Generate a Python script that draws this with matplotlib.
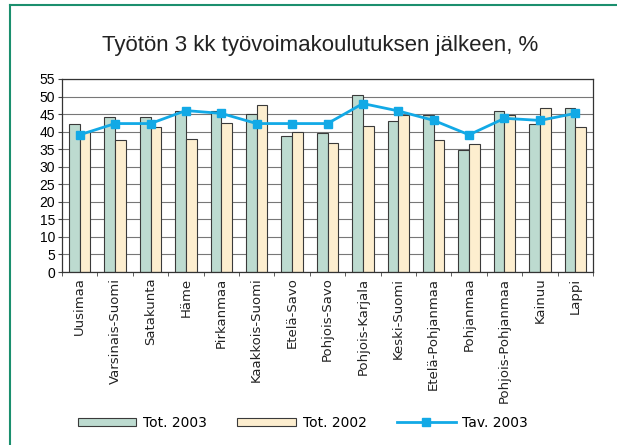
import numpy as np
import matplotlib.pyplot as plt
from matplotlib.lines import Line2D
from matplotlib.patches import Patch

# alueet ja arvot (luettu kuvasta)
alueet = ['Uusimaa', 'Varsinais-Suomi', 'Satakunta', 'Häme', 'Pirkanmaa',
          'Kaakkois-Suomi', 'Etelä-Savo', 'Pohjois-Savo', 'Pohjois-Karjala',
          'Keski-Suomi', 'Etelä-Pohjanmaa', 'Pohjanmaa', 'Pohjois-Pohjanmaa',
          'Kainuu', 'Lappi']
tot_2003 = [42.1, 44.1, 44.1, 45.8, 45.8, 45.1, 38.8, 39.7, 50.4, 43.0,
            44.7, 34.7, 45.8, 42.1, 46.6]
tot_2002 = [40.0, 37.6, 41.3, 38.0, 42.6, 47.6, 40.0, 36.8, 41.6, 44.7,
            37.6, 36.4, 44.8, 46.6, 41.3]
tav_2003 = [39.1, 42.3, 42.3, 46.0, 45.2, 42.3, 42.3, 42.3, 48.0, 45.9,
            43.2, 39.1, 43.8, 43.2, 45.2]
y_ticks = list(range(0, 60, 5))

green = '#bddbd0'
beige = '#fdeecf'
blue = '#12a9e6'
edge = '#3a3a3a'

fig = plt.figure(figsize=(6.17, 4.45), dpi=100)
ax = fig.add_axes([62/617, 1-272/445, (593-62)/617, (272-79)/445])

x = np.arange(len(alueet))
w = 0.3
ax.bar(x - w/2, tot_2003, w, color=green, edgecolor=edge, linewidth=0.8, zorder=2)
ax.bar(x + w/2, tot_2002, w, color=beige, edgecolor=edge, linewidth=0.8, zorder=2)
ax.plot(x, tav_2003, color=blue, linewidth=2, marker='s', markersize=6, zorder=3)

ax.set_xlim(-0.5, len(alueet) - 0.5)
ax.set_ylim(0, 55)
ax.set_yticks(y_ticks)
ax.set_yticklabels([str(v) for v in y_ticks], family=['Liberation Sans', 'DejaVu Sans'], fontsize=10)
ax.yaxis.grid(True, color='#777777', linewidth=0.8, zorder=0)
ax.set_axisbelow(True)

ax.set_xticks(x)
ax.set_xticklabels(alueet, rotation=90, family=['DejaVu Sans'], fontsize=9.5, color='#222222')
ax.set_xticks(np.arange(len(alueet) + 1) - 0.5, minor=True)
ax.tick_params(axis='x', which='major', length=0, pad=4)
ax.tick_params(axis='x', which='minor', length=3, color='#444444', direction='out')
ax.tick_params(axis='y', length=3, pad=2, color='#444444')
for s in ax.spines.values():
    s.set_color('#333333')
    s.set_linewidth(0.9)

fig.text(320/617, 1-45/445, 'Työtön 3 kk työvoimakoulutuksen jälkeen, %',
         ha='center', va='center', fontsize=16,
         family=['Liberation Sans', 'DejaVu Sans'], color='#222222')

# kehys vasemmalle ja ylös
fig.add_artist(Line2D([10/617, 10/617], [0, 1-5/445], color='#1b8f6e', linewidth=1.5))
fig.add_artist(Line2D([10/617, 1], [1-5/445, 1-5/445], color='#1b8f6e', linewidth=1.5))

handles = [Patch(facecolor=green, edgecolor=edge, linewidth=0.8),
           Patch(facecolor=beige, edgecolor=edge, linewidth=0.8),
           Line2D([], [], color=blue, linewidth=2, marker='s', markersize=6)]
fig.legend(handles, ['Tot. 2003', 'Tot. 2002', 'Tav. 2003'], loc='center',
           bbox_to_anchor=(303/617, 1-423/445), ncol=3, frameon=False,
           handlelength=4.2, handleheight=0.55, columnspacing=2.2, handletextpad=0.5,
           prop={'family': 'DejaVu Sans', 'size': 10})

fig.savefig('out.png', dpi=100)
